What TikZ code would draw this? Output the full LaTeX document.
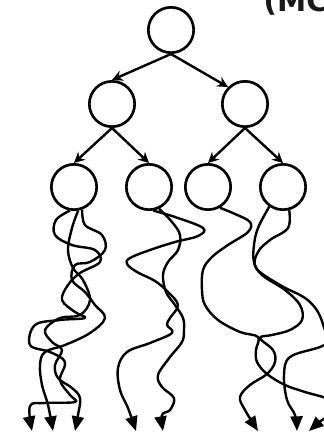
\documentclass[tikz,border=0pt]{standalone}
\usepackage{fontspec}
\setsansfont{DejaVu Sans}
\usepackage{tikz}
\usetikzlibrary{arrows.meta}

\begin{document}
\begin{tikzpicture}[x=0.75pt, y=-0.75pt,
    state/.style={circle, draw, line width=2pt, minimum size=34pt, inner sep=0pt},
    tree/.style={line width=1.8pt, -{Stealth[length=8pt, width=8pt]}},
    walk/.style={line width=1.8pt, line join=round, -{Triangle[length=11pt, width=9pt]}}]
    \useasboundingbox (0,0) rectangle (324,437);
    % Nodes
    \node (root) [state] at (171,30) {};
    \node (l) [state] at (112,104) {};
    \node (r) [state] at (245,104) {};
    \node (ll) [state] at (74,187) {};
    \node (lr) [state] at (149,187) {};
    \node (rl) [state] at (208,187) {};
    \node (rr) [state] at (283,187) {};
    \node (title) [anchor=base west, text=black!90, font=\sffamily\bfseries\fontsize{22}{22}\selectfont] at (259,11) {(MC};

    % ends of the rollouts
    \coordinate (e1) at (32,431);
    \coordinate (e2) at (53,431);
    \coordinate (e3) at (75,431);
    \coordinate (e4) at (136,431);
    \coordinate (e5) at (163,431);
    \coordinate (e6) at (258,431);
    \coordinate (e7) at (297,431);
    \coordinate (e8) at (309,431);

    % Arrows
    \draw[tree] (root.south) -- (l.north);
    \draw[tree] (root.south) -- (r.north west);
    \draw[tree] (l.south) -- (ll.north);
    \draw[tree] (l.south) -- (lr.north);
    \draw[tree] (r.south) -- (rl.north);
    \draw[tree] (r.south) -- (rr.north);

    % Rollouts
    \draw[walk] plot[smooth, tension=0.6] coordinates {(ll.-100) (56,220) (55,235) (72,245) (95,250) (100,262) (80,273) (68,285) (62,300) (75,312) (85,318) (60,320) (35,325) (30,345) (50,352) (65,362) (60,380) (70,395) (75,402) (45,403) (30,406) (e1)};
    \draw[walk] plot[smooth, tension=0.6] coordinates {(ll.-70) (85,225) (102,235) (105,250) (90,262) (75,265) (72,280) (85,292) (95,305) (105,318) (90,333) (65,345) (45,352) (40,365) (42,385) (48,405) (e2)};
    \draw[walk] plot[smooth, tension=0.6] coordinates {(ll.-80) (72,228) (68,250) (73,268) (83,280) (90,300) (80,315) (60,318) (45,330) (52,342) (62,350) (55,365) (58,378) (72,388) (80,398) (78,415) (e3)};
    \draw[walk] plot[smooth, tension=0.6] coordinates {(lr.-80) (175,217) (203,228) (198,236) (175,242) (150,250) (130,258) (127,264) (137,272) (155,281) (168,292) (178,305) (170,318) (167,325) (172,333) (150,343) (127,352) (118,368) (120,390) (128,408) (e4)};
    \draw[walk] plot[smooth, tension=0.6] coordinates {(lr.-65) (172,222) (180,235) (178,250) (168,262) (163,275) (166,292) (175,305) (183,318) (184,330) (182,342) (170,357) (158,375) (162,387) (174,398) (170,410) (162,415) (e5)};
    \draw[walk] plot[smooth, tension=0.6] coordinates {(rl.-60) (235,214) (250,222) (248,232) (228,245) (212,257) (203,270) (202,290) (205,305) (218,320) (240,332) (258,337) (256,350) (257,362) (267,374) (285,385) (305,392) (330,400) (335,412) (322,420) (e8)};
    \draw[walk] plot[smooth, tension=0.6] coordinates {(rr.-125) (258,228) (254,245) (254,262) (262,275) (285,290) (300,305) (302,320) (290,330) (272,335) (260,338) (273,350) (275,362) (267,374) (250,385) (240,397) (245,410) (e6)};
    \draw[walk] plot[smooth, tension=0.6] coordinates {(rr.-75) (288,228) (270,240) (258,252) (256,268) (280,285) (305,298) (318,312) (325,330) (330,340) (320,347) (290,357) (284,375) (287,400) (295,415) (e7)};
\end{tikzpicture}
\end{document}
